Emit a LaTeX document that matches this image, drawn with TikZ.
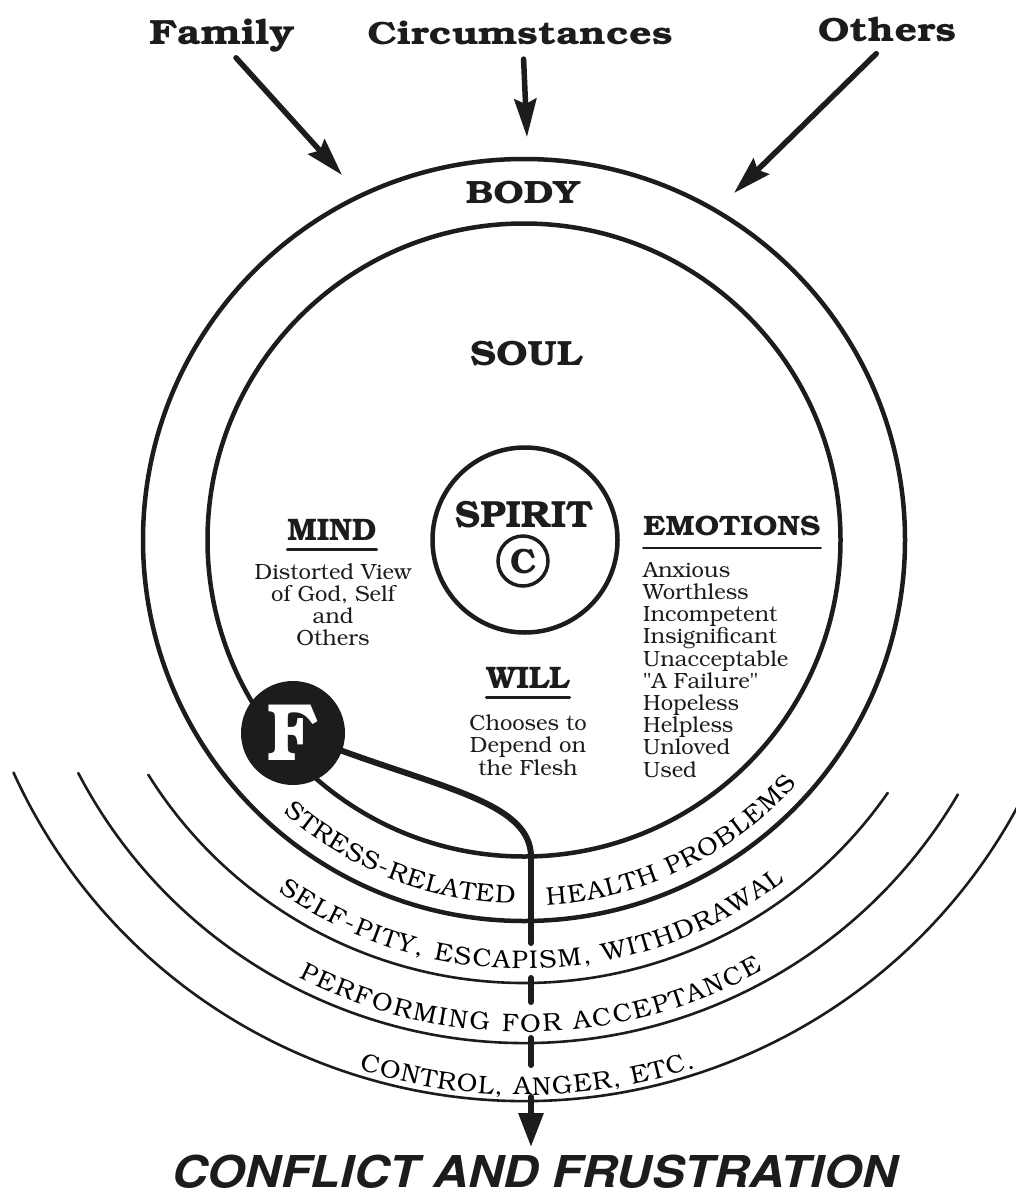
\documentclass[tikz,border=0pt]{standalone}
\usepackage[T1]{fontenc}
\usepackage{bookman}
\usepackage{graphicx}
\usetikzlibrary{arrows.meta,decorations.text,calc}
\definecolor{ink}{RGB}{28,28,28}
\newcommand\hd[3]{\resizebox{#1pt}{#2pt}{\bfseries #3}}
\newcommand\arcfont{\fontsize{25.5}{26}\selectfont}
\tikzset{
  ttl/.style={inner sep=0pt, anchor=base, text=ink},
  ring/.style={circle, draw=ink, line width=4.5pt, inner sep=0pt, outer sep=0pt},
  thinarc/.style={draw=ink, line width=2.6pt},
  vline/.style={draw=ink, line width=6pt},
  toparr/.style={draw=ink, line width=5.5pt, -{Stealth[length=38pt,width=22pt,inset=5pt]}},
  uline/.style={draw=ink, line width=2.6pt},
  bodytxt/.style={inner sep=0pt, font=\fontsize{22}{#1}\selectfont, text=ink},
  arctext/.style={decorate, decoration={text along path, text align=fit to path, text={|\arcfont|#1}}}
}
\begin{document}
\begin{tikzpicture}[x=1pt,y=1pt,line cap=round]
\useasboundingbox (0,0) rectangle (1015,-1196);
\fill[white] (0,0) rectangle (1015,-1196);
\coordinate (C) at (524,-540);

% circles
\node[ring, minimum size=762pt] (bodyc) at (C) {};
\node[ring, minimum size=633pt] (soulc) at (C) {};
\node[ring, minimum size=185pt] (spiritc) at (525,-540) {};

% thin outer arcs
\draw[thinarc] ([shift={(212:443pt)}]C) arc[start angle=212,end angle=325.2,radius=443pt];
\draw[thinarc] ([shift={(207.6:503pt)}]C) arc[start angle=207.6,end angle=329.6,radius=503pt];
\draw[thinarc] ([shift={(204.5:561pt)}]C) arc[start angle=204.5,end angle=333,radius=561pt];

% titles
\node[ttl] (family) at (222,-45) {\hd{145}{25}{Family}};
\node[ttl] (circ) at (520,-45) {\hd{305}{23}{Circumstances}};
\node[ttl] (others) at (887,-42) {\hd{138}{24}{Others}};
\node[ttl] (body) at (523,-203) {\hd{114}{23}{BODY}};
\node[ttl] (soul) at (526,-365) {\hd{112}{25}{SOUL}};
\node[ttl] (spirit) at (524,-527) {\hd{138}{27}{SPIRIT}};
\node[ttl] (mind) at (332,-540) {\hd{89}{21}{MIND}};
\node[ttl] (will) at (528,-688) {\hd{83}{21}{WILL}};
\node[ttl] (emot) at (732,-535) {\hd{177}{20}{EMOTIONS}};

\draw[uline] ([yshift=-9pt]mind.south west) -- ([yshift=-9pt]mind.south east);
\draw[uline] ([yshift=-9pt]will.south west) -- ([yshift=-9pt]will.south east);
\draw[uline] ([yshift=-12pt]emot.south west) -- ([yshift=-12pt]emot.south east);

% copyright mark
\node[circle, draw=ink, line width=3.5pt, minimum size=50pt, inner sep=0pt, text=ink] (copy) at (523,-561) {\resizebox{26pt}{25pt}{\bfseries C}};

% body texts (anchor base = baseline of the last line)
\node[bodytxt=21.7pt, align=center, anchor=base] (mindtxt) at (333,-645) {Distorted View\\of God, Self\\and\\Others};
\node[bodytxt=22.5pt, align=center, anchor=base] (willtxt) at (528,-775) {Chooses to\\Depend on\\the Flesh};
\node[bodytxt=22.2pt, align=left, anchor=base west] (emottxt) at (643,-777) {Anxious\\Worthless\\Incompetent\\Insignificant\\Unacceptable\\\textquotedbl A Failure\textquotedbl\\Hopeless\\Helpless\\Unloved\\Used};

% F and the flesh path
\node[circle, fill=ink, minimum size=104pt, inner sep=0pt] (F) at (293,-733) {\textcolor{white}{\resizebox{50pt}{55pt}{\bfseries F}}};
\coordinate (merge) at (531,-857);
\coordinate (tipc) at (531,-1147);
\draw[vline] (F.-20) .. controls (450,-790) and (531,-805) .. (merge);
\draw[vline, dash pattern=on 86pt off 35pt on 24pt off 36pt on 27pt off 32pt on 80pt, -{Triangle[length=34pt,width=24pt]}] (merge) -- (tipc);

% arc texts
\path[arctext={STRESS-RELATED}] ([shift={(228.5:364pt)}]C) arc[start angle=228.5,end angle=268.6,radius=364pt];
\path[arctext={HEALTH PROBLEMS}] ([shift={(273.6:366pt)}]C) arc[start angle=273.6,end angle=318.2,radius=366pt];
\path[arctext={SELF-PITY, ESCAPISM, WITHDRAWAL}] ([shift={(235:429pt)}]C) arc[start angle=235,end angle=307.3,radius=429pt];
\path[arctext={PERFORMING FOR ACCEPTANCE}] ([shift={(242.7:492pt)}]C) arc[start angle=242.7,end angle=299,radius=492pt];
\path[arctext={CONTROL, ANGER, ETC.}] ([shift={(252.7:555pt)}]C) arc[start angle=252.7,end angle=288,radius=555pt];

% incoming arrows
\coordinate (famtip) at (342,-175);
\coordinate (circtip) at (527,-137);
\coordinate (othtip) at (734,-193);
\draw[toparr, shorten <=6pt] ([xshift=10pt]family.south) -- (famtip);
\draw[toparr, shorten <=13pt] ([xshift=3pt]circ.south) -- (circtip);
\draw[toparr, shorten <=15pt] (others.south) -- (othtip);

% conclusion
\node[ttl, anchor=base] (conflict) at (533,-1187) {\resizebox{725pt}{32pt}{\fontfamily{phv}\fontseries{b}\fontshape{sl}\selectfont CONFLICT AND FRUSTRATION}};
\end{tikzpicture}
\end{document}
